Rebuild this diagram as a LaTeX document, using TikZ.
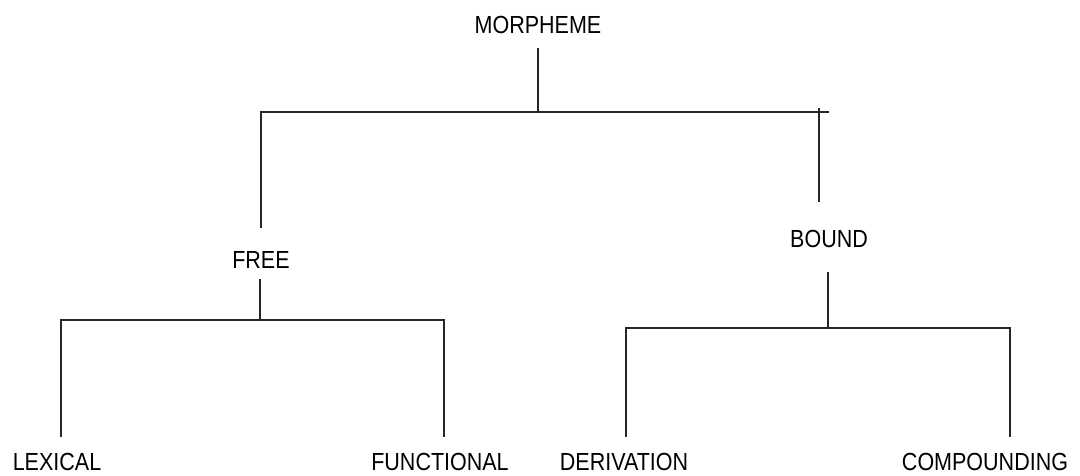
\documentclass[tikz,border=0pt]{standalone}
\usepackage{fontspec}
\setmainfont{Liberation Sans}
\begin{document}
\begin{tikzpicture}[x=1pt,y=-1pt,
  label/.style={font=\fontsize{21.5}{25}\selectfont, inner sep=0pt, anchor=base,
                yscale=1.15, transform shape, text depth=0pt},
  branch/.style={line width=1.7pt, draw=black!85}]
\useasboundingbox (0,0) rectangle (1080,475);

% labels
\node[label] (morpheme) at (538,33)  {MORPHEME};
\node[label] (free)     at (261,268) {FREE};
\node[label] (bound)    at (829,247) {BOUND};
\node[label] (lexical)  at (57,470)  {LEXICAL};
\node[label] (functional) at (440,470) {FUNCTIONAL};
\node[label] (derivation) at (624,470) {DERIVATION};
\node[label] (compounding) at (985,470) {COMPOUNDING};

% top level: MORPHEME splits into FREE and BOUND
\coordinate (m-stem) at (538,48);
\coordinate (m-join) at (538,112);
\coordinate (m-left) at (261,112);
\coordinate (m-right) at (829,112);
\coordinate (free-in) at (261,228);
\coordinate (bound-cap) at (819,108);
\coordinate (bound-in) at (819,202);
\draw[branch] (m-stem) -- (m-join);
\draw[branch] (free-in) -- (m-left) -- (m-right);
\draw[branch] (bound-cap) -- (bound-in);

% FREE splits into LEXICAL and FUNCTIONAL
\coordinate (f-stem) at (260,279);
\coordinate (f-join) at (260,320);
\coordinate (f-left) at (61,320);
\coordinate (f-right) at (444,320);
\coordinate (lex-in) at (61,437);
\coordinate (fun-in) at (444,437);
\draw[branch] (f-stem) -- (f-join);
\draw[branch] (lex-in) -- (f-left) -- (f-right) -- (fun-in);

% BOUND splits into DERIVATION and COMPOUNDING
\coordinate (b-stem) at (828,272);
\coordinate (b-join) at (828,328);
\coordinate (b-left) at (626,328);
\coordinate (b-right) at (1010,328);
\coordinate (der-in) at (626,437);
\coordinate (com-in) at (1010,437);
\draw[branch] (b-stem) -- (b-join);
\draw[branch] (der-in) -- (b-left) -- (b-right) -- (com-in);
\end{tikzpicture}
\end{document}
